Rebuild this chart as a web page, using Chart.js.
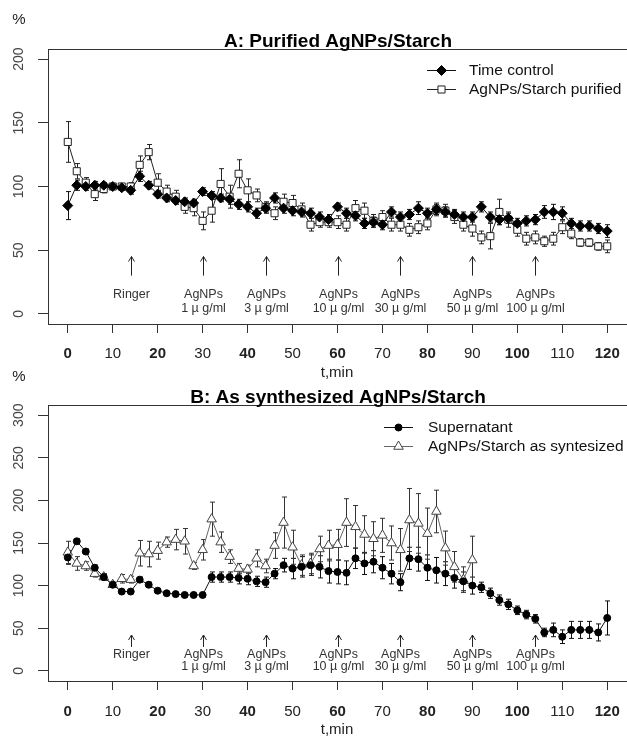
<!DOCTYPE html>
<html>
<head>
<meta charset="utf-8">
<script src="https://cdn.jsdelivr.net/npm/chart.js@4.4.1/dist/chart.umd.min.js"></script>
<style>
  html, body { margin: 0; padding: 0; background: #fff; }
  #wrap { position: relative; width: 627px; height: 736px; overflow: hidden; }
  canvas { position: absolute; left: 0; }
  #chartA { top: 0; }
  #chartB { top: 368px; }
</style>
</head>
<body>
<div id="wrap">
  <canvas id="chartA" width="627" height="385"></canvas>
  <canvas id="chartB" width="627" height="368"></canvas>
</div>
<script>
    const FONT = "'Liberation Sans', Arial, sans-serif";

    // sampling times (min)
    const minutes = [0, 2, 4, 6, 8, 10, 12, 14, 16, 18, 20, 22, 24, 26, 28, 30, 32, 34, 36, 38,
      40, 42, 44, 46, 48, 50, 52, 54, 56, 58, 60, 62, 64, 66, 68, 70, 72, 74, 76, 78,
      80, 82, 84, 86, 88, 90, 92, 94, 96, 98, 100, 102, 104, 106, 108, 110, 112, 114, 116, 118, 120];
    const xTicks = [0, 10, 20, 30, 40, 50, 60, 70, 80, 90, 100, 110, 120];
    const yTicksA = [0, 50, 100, 150, 200];
    const yTicksB = [0, 50, 100, 150, 200, 250, 300];

    // A: purified
    const timeControl = [85, 101, 100, 101, 101, 100, 99, 97, 108, 101, 94, 91, 89, 88, 87, 96, 93, 91, 90, 86,
      84, 79, 83, 91, 83, 81, 80, 79, 76, 74, 84, 79, 77, 71, 72, 70, 80, 76, 78, 83,
      79, 82, 80, 78, 76, 76, 84, 76, 74, 75, 71, 73, 74, 80, 80, 79, 71, 69, 69, 67, 65];
    const timeControlErr = [11, 4, 3, 3, 2, 2, 2, 3, 4, 3, 3, 3, 3, 3, 3, 3, 3, 3, 4, 4,
      4, 4, 4, 4, 4, 4, 4, 4, 4, 4, 3, 4, 4, 4, 4, 4, 4, 4, 4, 5,
      4, 4, 4, 4, 4, 4, 4, 4, 4, 4, 4, 4, 4, 5, 6, 5, 4, 4, 4, 4, 5];
    const purified = [135, 112, 103, 94, 98, 100, 100, 100, 117, 127, 103, 96, 92, 84, 83, 73, 81, 102, 92, 110,
      97, 93, 84, 79, 88, 87, 82, 70, 72, 72, 72, 70, 83, 81, 73, 76, 70, 70, 66, 68,
      71, 82, 81, 76, 70, 67, 60, 61, 80, 74, 66, 59, 60, 57, 59, 68, 63, 56, 56, 53, 53];
    const purifiedErr = [16, 6, 4, 5, 3, 2, 2, 3, 7, 6, 7, 5, 5, 5, 6, 7, 9, 12, 9, 11,
      9, 5, 4, 5, 6, 6, 5, 5, 4, 4, 5, 5, 6, 6, 5, 5, 5, 5, 5, 5,
      5, 5, 5, 5, 5, 6, 5, 10, 10, 6, 5, 5, 5, 4, 5, 5, 4, 3, 3, 3, 5];

    // B: as synthesized
    const supernatant = [133, 152, 140, 121, 110, 101, 93, 93, 107, 101, 94, 91, 90, 89, 89, 89, 110, 110, 110, 109,
      108, 105, 104, 114, 124, 120, 122, 124, 122, 117, 116, 115, 132, 126, 128, 121, 114, 104, 132, 131,
      121, 118, 114, 109, 105, 100, 98, 91, 83, 78, 71, 66, 61, 45, 48, 40, 48, 48, 48, 45, 62];
    const supernatantErr = [8, 3, 3, 3, 3, 2, 2, 2, 3, 3, 2, 2, 2, 2, 2, 2, 6, 6, 6, 7,
      7, 6, 6, 6, 8, 12, 12, 12, 13, 14, 14, 14, 12, 13, 13, 13, 12, 10, 13, 14,
      15, 15, 14, 12, 11, 10, 6, 6, 6, 6, 5, 5, 5, 5, 8, 8, 10, 10, 10, 10, 20];
    // measured up to 90 min only
    const synthesized = [139, 126, 123, 114, 110, 101, 108, 107, 138, 137, 141, 151, 154, 152, 123, 142, 178, 151, 134, 120,
      119, 132, 123, 147, 174, 145, 124, 126, 143, 147, 148, 174, 169, 160, 155, 159, 150, 142, 177, 173,
      161, 187, 144, 122, 107, 130];
    const synthesizedErr = [13, 8, 5, 4, 4, 3, 5, 4, 15, 15, 10, 6, 12, 15, 4, 12, 20, 12, 8, 6,
      5, 10, 8, 15, 30, 20, 12, 12, 15, 18, 18, 28, 25, 22, 20, 20, 20, 25, 37, 35,
      30, 25, 20, 18, 15, 28];

    // additions along the time axis
    const doseTimes = [14, 30, 44, 60, 74, 90, 104];
    const doseNames = ['Ringer', 'AgNPs', 'AgNPs', 'AgNPs', 'AgNPs', 'AgNPs', 'AgNPs'];
    const doseConc = ['', '1 \u00b5 g/ml', '3 \u00b5 g/ml', '10 \u00b5 g/ml', '30 \u00b5 g/ml', '50 \u00b5 g/ml', '100 \u00b5 g/ml'];

    function points(vals) {
      return vals.map((v, i) => ({ x: minutes[i], y: v }));
    }

    // error bars, frame, title, rotated y labels, arrows and the R-style legend
    const panelDecor = {
      id: 'panelDecor',
      beforeDatasetsDraw(chart, args, o) {
        const ctx = chart.ctx, xs = chart.scales.x, ys = chart.scales.y;
        ctx.save();
        ctx.lineWidth = 1;
        chart.data.datasets.forEach((ds, i) => {
          const err = o.errors[i];
          ctx.strokeStyle = o.errColors[i];
          ds.data.forEach((p, j) => {
            const e = err[j];
            if (!e) return;
            const x = Math.round(xs.getPixelForValue(p.x)) + 0.5;
            const y1 = ys.getPixelForValue(p.y - e);
            const y2 = ys.getPixelForValue(p.y + e);
            ctx.beginPath();
            ctx.moveTo(x, y1); ctx.lineTo(x, y2);
            ctx.moveTo(x - 2.5, y1); ctx.lineTo(x + 2.5, y1);
            ctx.moveTo(x - 2.5, y2); ctx.lineTo(x + 2.5, y2);
            ctx.stroke();
          });
        });
        ctx.restore();
      },
      afterDraw(chart, args, o) {
        const ctx = chart.ctx, a = chart.chartArea, xs = chart.scales.x, ys = chart.scales.y;
        ctx.save();

        // top of the box
        ctx.strokeStyle = '#333';
        ctx.lineWidth = 1;
        ctx.beginPath();
        ctx.moveTo(a.left, Math.round(a.top) + 0.5);
        ctx.lineTo(a.right, Math.round(a.top) + 0.5);
        ctx.stroke();

        ctx.fillStyle = '#000';
        ctx.font = 'bold 19px ' + FONT;
        ctx.textAlign = 'center';
        ctx.textBaseline = 'alphabetic';
        ctx.fillText(o.title, 338, o.titleY);

        ctx.font = '15px ' + FONT;
        ctx.fillStyle = '#222';
        ctx.textBaseline = 'middle';
        ctx.fillText('%', 19, o.pctY);
        ctx.fillText('t,min', 337, o.xTitleY);

        // y tick labels, rotated like R's
        ctx.font = '14px ' + FONT;
        ctx.fillStyle = '#444';
        ys.ticks.forEach(t => {
          const y = ys.getPixelForValue(t.value);
          ctx.save();
          ctx.translate(19, y);
          ctx.rotate(-Math.PI / 2);
          ctx.fillText(String(t.value), 0, 0);
          ctx.restore();
        });

        // arrows with dose labels
        ctx.strokeStyle = '#222';
        ctx.font = '12.5px ' + FONT;
        ctx.fillStyle = '#333';
        doseTimes.forEach((t, i) => {
          const x = Math.round(xs.getPixelForValue(t)) + 0.5;
          const yTop = ys.getPixelForValue(o.arrowTop);
          const yBot = ys.getPixelForValue(o.arrowBottom);
          ctx.beginPath();
          ctx.moveTo(x, yBot); ctx.lineTo(x, yTop);
          ctx.moveTo(x - 3, yTop + 5); ctx.lineTo(x, yTop); ctx.lineTo(x + 3, yTop + 5);
          ctx.stroke();
          ctx.fillText(doseNames[i], x, ys.getPixelForValue(o.nameY));
          if (doseConc[i]) ctx.fillText(doseConc[i], x, ys.getPixelForValue(o.concY));
        });

        // legend
        const lg = o.legend;
        ctx.font = '15.5px ' + FONT;
        ctx.textAlign = 'left';
        chart.data.datasets.forEach((ds, i) => {
          const y = Math.round(lg.rows[i]) + 0.5;
          ctx.strokeStyle = ds.borderColor;
          ctx.beginPath();
          ctx.moveTo(lg.x1, y); ctx.lineTo(lg.x2, y);
          ctx.stroke();
          ctx.fillStyle = ds.pointBackgroundColor;
          ctx.strokeStyle = ds.pointBorderColor;
          Chart.helpers.drawPoint(ctx, {
            pointStyle: ds.pointStyle, rotation: 0,
            radius: ds.pointRadius, borderWidth: ds.pointBorderWidth
          }, (lg.x1 + lg.x2) / 2, y);
          ctx.fillStyle = '#111';
          ctx.fillText(ds.label, lg.textX, y);
        });

        ctx.restore();
      }
    };

    function makeChart(id, cfg) {
      return new Chart(document.getElementById(id), {
        type: 'line',
        data: { datasets: cfg.datasets },
        options: {
          responsive: false,
          animation: false,
          devicePixelRatio: 1,
          layout: { autoPadding: false, padding: { top: cfg.padTop, left: 0, right: 0, bottom: 0 } },
          plugins: {
            legend: { display: false },
            tooltip: { enabled: false },
            panelDecor: cfg.decor
          },
          scales: {
            x: {
              type: 'linear',
              min: -4.4,
              max: 124.4,
              afterBuildTicks: s => { s.ticks = xTicks.map(v => ({ value: v })); },
              afterFit: s => {
                s.height = cfg.xHeight;
                s.paddingLeft = 0;
                s.paddingRight = 0;
              },
              grid: { drawOnChartArea: false, drawTicks: true, tickLength: 9, color: '#333' },
              border: { display: true, color: '#333', width: 1 },
              ticks: {
                padding: cfg.tickPad,
                color: '#222',
                maxRotation: 0,
                autoSkip: false,
                callback: v => String(v),
                font: c => ({ family: FONT, size: 15, weight: (c.tick && c.tick.value % 20 === 0) ? 'bold' : 'normal' })
              }
            },
            y: {
              type: 'linear',
              min: cfg.yMin,
              max: cfg.yMax,
              afterBuildTicks: s => { s.ticks = cfg.yTicks.map(v => ({ value: v })); },
              afterFit: s => {
                s.width = 48;
                s.paddingTop = 0;
                s.paddingBottom = 0;
              },
              grid: { drawOnChartArea: false, drawTicks: true, tickLength: 10, color: '#333' },
              border: { display: true, color: '#333', width: 1 },
              ticks: { display: false }
            }
          }
        },
        plugins: [panelDecor]
      });
    }

    makeChart('chartA', {
      padTop: 49, xHeight: 61, tickPad: 12,
      yMin: -8, yMax: 208, yTicks: yTicksA,
      datasets: [
        {
          label: 'Time control', data: points(timeControl),
          borderColor: '#111', borderWidth: 1, tension: 0, fill: false,
          pointStyle: 'rectRot', pointRadius: 5, pointBorderWidth: 1,
          pointBackgroundColor: '#000', pointBorderColor: '#000'
        },
        {
          label: 'AgNPs/Starch purified', data: points(purified),
          borderColor: '#222', borderWidth: 1, tension: 0, fill: false,
          pointStyle: 'rect', pointRadius: 5, pointBorderWidth: 1,
          pointBackgroundColor: '#fff', pointBorderColor: '#222'
        }
      ],
      decor: {
        title: 'A: Purified AgNPs/Starch', titleY: 46.5, pctY: 20, xTitleY: 373,
        errors: [timeControlErr, purifiedErr], errColors: ['#111', '#222'],
        arrowTop: 45, arrowBottom: 30, nameY: 15, concY: 4.5,
        legend: { x1: 427, x2: 456, textX: 469, rows: [70, 89] }
      }
    });

    makeChart('chartB', {
      padTop: 37, xHeight: 55, tickPad: 13,
      yMin: -12, yMax: 312, yTicks: yTicksB,
      datasets: [
        {
          label: 'Supernatant', data: points(supernatant),
          borderColor: '#111', borderWidth: 1, tension: 0, fill: false,
          pointStyle: 'circle', pointRadius: 3.5, pointBorderWidth: 1,
          pointBackgroundColor: '#000', pointBorderColor: '#000'
        },
        {
          label: 'AgNPs/Starch as syntesized', data: points(synthesized),
          borderColor: '#666', borderWidth: 1, tension: 0, fill: false,
          pointStyle: 'triangle', pointRadius: 5.5, pointBorderWidth: 1,
          pointBackgroundColor: '#fff', pointBorderColor: '#444'
        }
      ],
      decor: {
        title: 'B: As synthesized AgNPs/Starch', titleY: 35, pctY: 9, xTitleY: 362,
        errors: [supernatantErr, synthesizedErr], errColors: ['#111', '#333'],
        arrowTop: 42, arrowBottom: 28, nameY: 19, concY: 4.5,
        legend: { x1: 384, x2: 413, textX: 428, rows: [58.5, 78] }
      }
    });
</script>
</body>
</html>
